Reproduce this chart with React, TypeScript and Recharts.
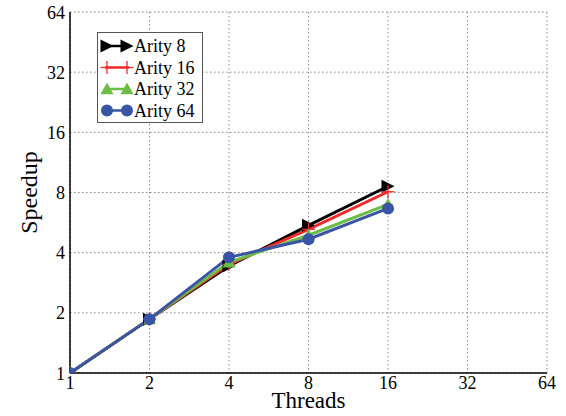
import React from 'react';
import { LineChart, Line, XAxis, YAxis, CartesianGrid } from 'recharts';

const threads = [1, 2, 4, 8, 16];
const arity8 = [1, 1.86, 3.43, 5.48, 8.6];
const arity16 = [1, 1.86, 3.5, 5.23, 8.07];
const arity32 = [1, 1.86, 3.58, 4.89, 6.97];
const arity64 = [1, 1.86, 3.79, 4.67, 6.66];
const xTicks = [1, 2, 4, 8, 16, 32, 64];
const yTicks = [1, 2, 4, 8, 16, 32, 64];

const data = threads.map((t, i) => ({
  threads: t,
  a8: arity8[i],
  a16: arity16[i],
  a32: arity32[i],
  a64: arity64[i],
}));

const FONT = 'Liberation Serif, serif';
const COLORS = { a8: '#000000', a16: '#ee2a2a', a32: '#6cbd45', a64: '#3a55a5' };

type MarkerKind = 'right' | 'plus' | 'up' | 'circle';

const Marker = ({ kind, cx, cy, color }: { kind: MarkerKind; cx: number; cy: number; color: string }) => {
  if (cx == null || cy == null || isNaN(cx) || isNaN(cy)) return null;
  if (kind === 'right') {
    const s = 6.5;
    return <polygon points={`${cx - s},${cy - s} ${cx + s},${cy} ${cx - s},${cy + s}`} fill={color} />;
  }
  if (kind === 'plus') {
    const s = 6.5;
    return (
      <g stroke={color} strokeWidth={1.3}>
        <line x1={cx - s} y1={cy} x2={cx + s} y2={cy} />
        <line x1={cx} y1={cy - s} x2={cx} y2={cy + s} />
      </g>
    );
  }
  if (kind === 'up') {
    const s = 6.5;
    return <polygon points={`${cx},${cy - s} ${cx + s},${cy + s * 0.8} ${cx - s},${cy + s * 0.8}`} fill={color} />;
  }
  return <circle cx={cx} cy={cy} r={6} fill={color} />;
};

const makeDot = (kind: MarkerKind, color: string) => (props: any) => (
  <Marker key={`${kind}-${props.index}`} kind={kind} cx={props.cx} cy={props.cy} color={color} />
);

const legendItems: { label: string; kind: MarkerKind; color: string }[] = [
  { label: 'Arity 8', kind: 'right', color: COLORS.a8 },
  { label: 'Arity 16', kind: 'plus', color: COLORS.a16 },
  { label: 'Arity 32', kind: 'up', color: COLORS.a32 },
  { label: 'Arity 64', kind: 'circle', color: COLORS.a64 },
];

const LegendBox = () => (
  <div
    style={{
      position: 'absolute',
      left: 97,
      top: 32,
      width: 106,
      height: 91,
      background: '#fff',
      border: '1px solid #555',
      boxSizing: 'border-box',
    }}
  >
    <svg width={104} height={89} style={{ position: 'absolute', left: 0, top: 0 }}>
      {legendItems.map((it, i) => {
        const y = 13 + i * 21.5;
        return (
          <g key={it.label}>
            <line x1={7} y1={y} x2={31} y2={y} stroke={it.color} strokeWidth={2.5} />
            <Marker kind={it.kind} cx={9} cy={y} color={it.color} />
            <Marker kind={it.kind} cx={29} cy={y} color={it.color} />
            <text x={36} y={y + 6} style={{ fontFamily: FONT, fontSize: 18 }} fill="#000">
              {it.label}
            </text>
          </g>
        );
      })}
    </svg>
  </div>
);

const XTick = (props: any) => {
  const { x, payload } = props;
  return (
    <text x={x} y={389} textAnchor="middle" style={{ fontFamily: FONT, fontSize: 18 }} fill="#000">
      {payload.value}
    </text>
  );
};

const YTick = (props: any) => {
  const { y, payload } = props;
  return (
    <text x={65} y={y + 6.5} textAnchor="end" style={{ fontFamily: FONT, fontSize: 18 }} fill="#000">
      {payload.value}
    </text>
  );
};

export default function App() {
  return (
    <div style={{ position: 'absolute', left: 0, top: 0, width: 566, height: 416, background: '#fff', fontFamily: FONT }}>
      <LineChart width={566} height={416} data={data} margin={{ top: 12, right: 19, bottom: 0, left: 0 }}>
        <CartesianGrid stroke="#888" strokeDasharray="1.5 2.5" strokeWidth={1} />
        <XAxis
          dataKey="threads"
          type="number"
          scale="log"
          domain={[1, 64]}
          ticks={xTicks}
          allowDataOverflow
          height={43}
          tick={<XTick />}
          tickLine={false}
          axisLine={{ stroke: '#000', strokeWidth: 1.5 }}
          interval={0}
          label={{ value: 'Threads', position: 'insideBottom', offset: 8, style: { fontFamily: FONT, fontSize: 23, fill: '#000' } }}
        />
        <XAxis xAxisId="top" orientation="top" dataKey="threads" type="number" scale="log" domain={[1, 64]} height={0} tick={false} tickLine={false} axisLine={{ stroke: '#000', strokeWidth: 1.5 }} />
        <YAxis
          type="number"
          scale="log"
          domain={[1, 64]}
          ticks={yTicks}
          allowDataOverflow
          width={70}
          tick={<YTick />}
          tickLine={false}
          axisLine={{ stroke: '#000', strokeWidth: 1.5 }}
          interval={0}
          label={{ value: 'Speedup', angle: -90, position: 'insideLeft', offset: 28, style: { fontFamily: FONT, fontSize: 24, fill: '#000', textAnchor: 'middle' } }}
        />
        <YAxis yAxisId="right" orientation="right" type="number" scale="log" domain={[1, 64]} width={0} tick={false} tickLine={false} axisLine={{ stroke: '#000', strokeWidth: 1.5 }} />
        <Line dataKey="a8" name="Arity 8" stroke={COLORS.a8} strokeWidth={3} dot={makeDot('right', COLORS.a8)} isAnimationActive={false} />
        <Line dataKey="a16" name="Arity 16" stroke={COLORS.a16} strokeWidth={3} dot={makeDot('plus', COLORS.a16)} isAnimationActive={false} />
        <Line dataKey="a32" name="Arity 32" stroke={COLORS.a32} strokeWidth={3} dot={makeDot('up', COLORS.a32)} isAnimationActive={false} />
        <Line dataKey="a64" name="Arity 64" stroke={COLORS.a64} strokeWidth={3} dot={makeDot('circle', COLORS.a64)} isAnimationActive={false} />
      </LineChart>
      <LegendBox />
    </div>
  );
}
